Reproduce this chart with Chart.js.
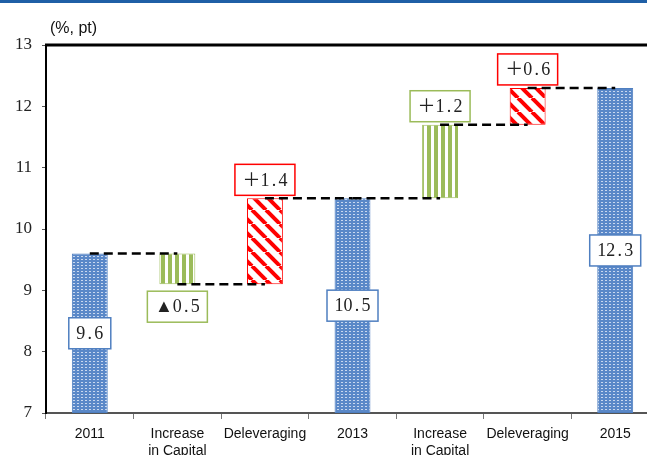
<!DOCTYPE html>
<html>
<head>
<meta charset="utf-8">
<script src="https://cdn.jsdelivr.net/npm/chart.js@4"></script>
<style>
  html, body { margin: 0; padding: 0; overflow: hidden; background: #fff; }
  #topbar { position: absolute; left: 0; top: 0; width: 647px; height: 3px; background: #1f5fa6; }
  #wrap { position: absolute; left: 0; top: 0; width: 662px; height: 455px; }
</style>
</head>
<body>
<div id="wrap"><canvas id="chart" width="662" height="455"></canvas></div>
<div id="topbar"></div>
<script>
const categories = ['2011', ['Increase', 'in Capital'], 'Deleveraging', '2013', ['Increase', 'in Capital'], 'Deleveraging', '2015'];
const kinds = ['total', 'capital', 'delev', 'total', 'capital', 'delev', 'total'];
const values = [9.6, -0.5, 1.4, 10.5, 1.2, 0.6, 12.3];
const boxTexts = ['9.6', '▲0.5', '＋1.4', '10.5', '＋1.2', '＋0.6', '12.3'];
const yTicks = [7, 8, 9, 10, 11, 12, 13];
const axisBase = 7;

// floating bar ranges built from the values
const starts = [], ends = [];
let running = 0;
values.forEach((v, i) => {
  if (kinds[i] === 'total') {
    starts.push(axisBase); ends.push(v); running = v;
  } else {
    starts.push(running);
    running = Math.round((running + v) * 10) / 10;
    ends.push(running);
  }
});

function makePattern(kind) {
  const c = document.createElement('canvas');
  const g = c.getContext('2d');
  if (kind === 'total') {
    c.width = 4; c.height = 3;
    g.fillStyle = '#5a88c8'; g.fillRect(0, 0, 4, 3);
    g.fillStyle = '#c9d8ef'; g.fillRect(1, 1, 2, 1);
  } else if (kind === 'capital') {
    c.width = 7; c.height = 1;
    g.fillStyle = '#fff'; g.fillRect(0, 0, 7, 1);
    g.fillStyle = '#9bbb59'; g.fillRect(0, 0, 4, 1);
  } else {
    const p = 14;
    c.width = p; c.height = p;
    g.fillStyle = '#fff'; g.fillRect(0, 0, p, p);
    g.strokeStyle = '#ff0000'; g.lineWidth = 4;
    [-p, 0, p].forEach(k => { g.beginPath(); g.moveTo(k, 0); g.lineTo(k + p, p); g.stroke(); });
  }
  return g.createPattern(c, 'repeat');
}
const fills = { total: makePattern('total'), capital: makePattern('capital'), delev: makePattern('delev') };
const edges = { total: '#4f7fc0', capital: '#9bbb59', delev: '#ff0000' };

const datasets = [{
  type: 'bar',
  data: starts.map((s, i) => [s, ends[i]]),
  backgroundColor: kinds.map(k => fills[k]),
  borderColor: kinds.map(k => edges[k]),
  borderWidth: 1,
  borderSkipped: false,
  barPercentage: 0.41,
  categoryPercentage: 1,
  order: 2
}];
for (let i = 0; i < categories.length - 1; i++) {
  datasets.push({
    type: 'line',
    data: categories.map((_, j) => (j === i || j === i + 1) ? ends[i] : null),
    borderColor: '#000',
    borderWidth: 2.5,
    borderDash: [9, 5],
    pointRadius: 0,
    spanGaps: false,
    order: 1
  });
}

const boxPlugin = {
  id: 'boxes',
  afterDatasetsDraw(chart) {
    const ctx = chart.ctx;
    const y = chart.scales.y;
    const meta = chart.getDatasetMeta(0);
    const size = 18;
    ctx.save();
    // top frame line
    ctx.strokeStyle = '#000'; ctx.lineWidth = 3;
    ctx.beginPath();
    ctx.moveTo(chart.chartArea.left - 1, chart.chartArea.top);
    ctx.lineTo(chart.chartArea.right, chart.chartArea.top);
    ctx.stroke();
    // title
    ctx.fillStyle = '#111';
    ctx.font = '16px "Liberation Sans", Arial, sans-serif';
    ctx.textAlign = 'left'; ctx.textBaseline = 'alphabetic';
    ctx.fillText('(%, pt)', chart.chartArea.left + 4, 33);

    ctx.font = size + 'px "Liberation Serif", "Noto Sans CJK JP", serif';
    boxTexts.forEach((t, i) => {
      const chars = [...t];
      const cw = chars.map(ch => ch.charCodeAt(0) > 255 ? size : size / 2);
      const tw = cw.reduce((a, b) => a + b, 0);
      const bw = tw + 15, bh = 31;
      const x = meta.data[i].x;
      const lo = y.getPixelForValue(Math.min(starts[i], ends[i]));
      const hi = y.getPixelForValue(Math.max(starts[i], ends[i]));
      let cy;
      if (kinds[i] === 'total') cy = (lo + hi) / 2;
      else if (values[i] < 0) cy = lo + 7 + bh / 2;
      else cy = hi - 3 - bh / 2;
      ctx.fillStyle = '#fff';
      ctx.fillRect(x - bw / 2, cy - bh / 2, bw, bh);
      ctx.strokeStyle = edges[kinds[i]];
      ctx.lineWidth = 1.5;
      ctx.strokeRect(x - bw / 2, cy - bh / 2, bw, bh);
      ctx.fillStyle = '#222';
      ctx.textAlign = 'center'; ctx.textBaseline = 'middle';
      let px = x - tw / 2;
      chars.forEach((ch, k) => {
        ctx.fillText(ch, px + cw[k] / 2, cy + 1);
        px += cw[k];
      });
    });
    ctx.restore();
  }
};

new Chart(document.getElementById('chart'), {
  data: { labels: categories, datasets },
  options: {
    responsive: false,
    animation: false,
    layout: { padding: { top: 45, right: 3, left: 0, bottom: 0 } },
    plugins: { legend: { display: false }, tooltip: { enabled: false } },
    scales: {
      x: {
        grid: { offset: true, drawOnChartArea: false, tickLength: 6, color: '#777' },
        border: { color: '#555', width: 2 },
        ticks: { color: '#111', padding: 7, maxRotation: 0, autoSkip: false,
          font: { family: '"Liberation Sans", Arial, sans-serif', size: 14 } },
        afterFit(s) { s.height = 42; }
      },
      y: {
        min: 7, max: 13,
        afterBuildTicks(s) { s.ticks = yTicks.map(v => ({ value: v })); },
        grid: { drawOnChartArea: false, tickLength: 4, color: '#555' },
        border: { color: '#000', width: 2 },
        ticks: { color: '#222', padding: 10,
          font: { family: '"Liberation Serif", serif', size: 17 } },
        afterFit(s) { s.width = 46; }
      }
    }
  },
  plugins: [boxPlugin]
});
</script>
</body>
</html>
